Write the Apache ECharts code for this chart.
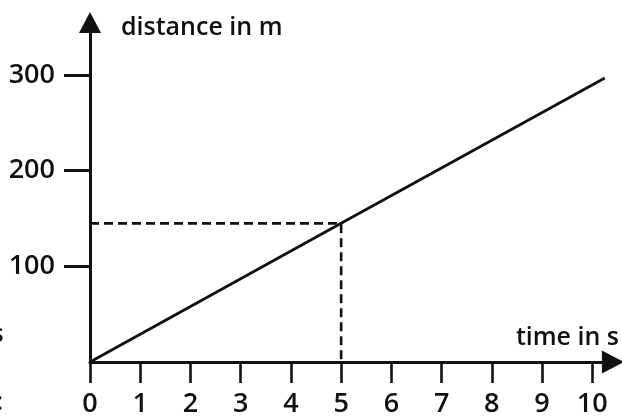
<!DOCTYPE html>
<html>
<head>
<meta charset="utf-8">
<title>distance–time graph</title>
<script src="https://cdn.jsdelivr.net/npm/echarts@6/dist/echarts.min.js"></script>
<style>
  html, body { margin: 0; padding: 0; background: #ffffff; }
  #chart { width: 622px; height: 418px; }
</style>
</head>
<body>
<div id="chart"></div>
<script>
// Distance against time for a body moving at constant speed
const times = [0, 5, 10.25];          // s
const distances = [0, 145, 297];      // m

// Reading taken off the graph at t = 5 s
const guideTimes = [0, 5, 5];
const guideDistances = [145, 145, 0];

// Tick positions and labels
const timeTicks = [0, 1, 2, 3, 4, 5, 6, 7, 8, 9, 10];
const distanceTicks = [100, 200, 300];

const ink = '#111111';
const font = 'Open Sans';
const weight = 600;

const chart = echarts.init(document.getElementById('chart'), null, { renderer: 'canvas' });

chart.setOption({
  backgroundColor: '#ffffff',
  animation: false,
  grid: { left: 90, right: 4, top: 22.5, bottom: 54, containLabel: false },
  xAxis: {
    type: 'value',
    min: 0,
    max: 10.41,
    name: 'time in s',
    nameLocation: 'end',
    nameGap: -97,
    nameTextStyle: {
      fontFamily: font, fontSize: 25, fontWeight: weight, color: ink,
      align: 'left', verticalAlign: 'bottom', padding: [0, 0, 12, 0]
    },
    splitLine: { show: false },
    axisLine: {
      show: true,
      symbol: ['none', 'triangle'],
      symbolSize: [23, 22],
      lineStyle: { color: ink, width: 3 }
    },
    axisTick: {
      show: true, inside: false, length: 21,
      customValues: timeTicks,
      lineStyle: { color: ink, width: 2.6 }
    },
    axisLabel: {
      show: true, margin: 29,
      customValues: timeTicks,
      fontFamily: font, fontSize: 27, fontWeight: weight, color: ink
    }
  },
  yAxis: {
    type: 'value',
    min: 0,
    max: 355,
    name: 'distance in m',
    nameLocation: 'end',
    nameGap: -5,
    nameTextStyle: {
      fontFamily: font, fontSize: 25, fontWeight: weight, color: ink,
      align: 'left', verticalAlign: 'middle', padding: [0, 0, 0, 31]
    },
    splitLine: { show: false },
    axisLine: {
      show: true,
      symbol: ['none', 'triangle'],
      symbolSize: [22, 21],
      lineStyle: { color: ink, width: 3 }
    },
    axisTick: {
      show: true, inside: false, length: 26,
      customValues: distanceTicks,
      lineStyle: { color: ink, width: 3 }
    },
    axisLabel: {
      show: true, margin: 35,
      customValues: distanceTicks,
      fontFamily: font, fontSize: 27, fontWeight: weight, color: ink
    }
  },
  series: [
    {
      name: 'reading',
      type: 'line',
      data: guideTimes.map((t, i) => [t, guideDistances[i]]),
      symbol: 'none',
      z: 2,
      lineStyle: { color: ink, width: 2.6, type: [9, 5] }
    },
    {
      name: 'distance',
      type: 'line',
      data: times.map((t, i) => [t, distances[i]]),
      symbol: 'none',
      z: 3,
      lineStyle: { color: ink, width: 2.8 }
    }
  ],
  graphic: [
    // ends of text running in from the left edge of the page
    { type: 'text', left: -9, top: 322, style: { text: 's', fontFamily: font, fontSize: 26, fontWeight: weight, fill: ink } },
    { type: 'text', left: -4, top: 390, style: { text: ':', fontFamily: font, fontSize: 26, fontWeight: weight, fill: ink } }
  ]
});
</script>
</body>
</html>
